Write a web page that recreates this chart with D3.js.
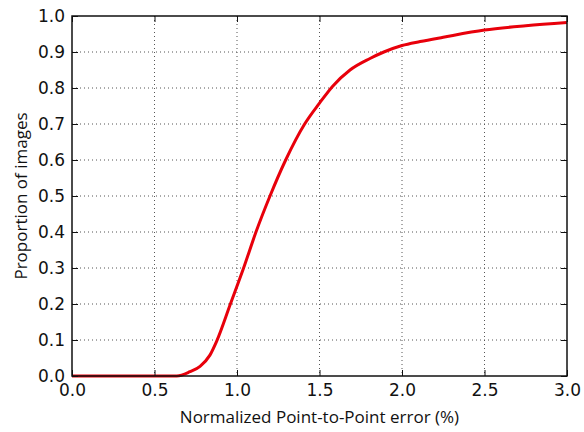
<!DOCTYPE html>
<html>
<head>
<meta charset="utf-8">
<script src="https://cdn.jsdelivr.net/npm/d3@7"></script>
<style>
  body { margin: 0; background: #fff; }
  svg text { fill: #111; }
</style>
</head>
<body>
<div id="plot"></div>
<script>
// curve
const errorPct = [0, 0.5, 0.635, 0.715, 0.776, 0.836, 0.877, 0.96, 1.04, 1.115, 1.2, 1.295, 1.41, 1.5, 1.58, 1.685, 1.806, 1.89, 2.0, 2.11, 2.25, 2.5, 2.75, 3.0];
const proportion = [0, 0, 0, 0.012, 0.027, 0.058, 0.097, 0.2, 0.3, 0.4, 0.5, 0.6, 0.7, 0.758, 0.805, 0.85, 0.882, 0.9, 0.918, 0.929, 0.941, 0.961, 0.973, 0.982];
const xTicks = [0, 0.5, 1.0, 1.5, 2.0, 2.5, 3.0];
const yTicks = [0, 0.1, 0.2, 0.3, 0.4, 0.5, 0.6, 0.7, 0.8, 0.9, 1.0];

const width = 584, height = 432;
const margin = {top: 16, right: 17, bottom: 56, left: 72};
const w = width - margin.left - margin.right;
const h = height - margin.top - margin.bottom;

const svg = d3.select("#plot").append("svg")
    .attr("width", width)
    .attr("height", height);

const g = svg.append("g")
    .attr("transform", `translate(${margin.left},${margin.top})`);

const x = d3.scaleLinear().domain([0, 3]).range([0, w]);
const y = d3.scaleLinear().domain([0, 1]).range([h, 0]);

// dotted grid
g.selectAll(".vgrid").data(xTicks.slice(1, -1)).enter().append("line")
    .attr("x1", d => x(d)).attr("x2", d => x(d))
    .attr("y1", 0).attr("y2", h)
    .attr("stroke", "#555").attr("stroke-width", 1)
    .attr("stroke-dasharray", "1,3");

g.selectAll(".hgrid").data(yTicks.slice(1, -1)).enter().append("line")
    .attr("x1", 0).attr("x2", w)
    .attr("y1", d => y(d)).attr("y2", d => y(d))
    .attr("stroke", "#555").attr("stroke-width", 1)
    .attr("stroke-dasharray", "1,3");

// the curve
const line = d3.line()
    .x((d, i) => x(errorPct[i]))
    .y(d => y(d))
    .curve(d3.curveMonotoneX);

g.append("path")
    .datum(proportion)
    .attr("d", line)
    .attr("fill", "none")
    .attr("stroke", "#e8000b")
    .attr("stroke-width", 3);

// axes, ticks pointing inward
const xAxis = g.append("g")
    .attr("transform", `translate(0,${h})`)
    .call(d3.axisBottom(x).tickValues(xTicks).tickFormat(d3.format(".1f")).tickSizeInner(-6).tickSizeOuter(0).tickPadding(8));
const xTop = g.append("g")
    .call(d3.axisTop(x).tickValues(xTicks).tickFormat("").tickSizeInner(-6).tickSizeOuter(0));
const yAxis = g.append("g")
    .call(d3.axisLeft(y).tickValues(yTicks).tickFormat(d3.format(".1f")).tickSizeInner(-6).tickSizeOuter(0).tickPadding(7));
const yRight = g.append("g")
    .attr("transform", `translate(${w},0)`)
    .call(d3.axisRight(y).tickValues(yTicks).tickFormat("").tickSizeInner(-6).tickSizeOuter(0));

[xAxis, xTop, yAxis, yRight].forEach(a => {
    a.select(".domain").remove();
    a.selectAll(".tick line").attr("stroke", "#111").attr("stroke-width", 1);
    a.selectAll("text")
        .style("font-family", "DejaVu Sans")
        .style("font-size", "17px")
        .attr("fill", "#111");
});

// frame
g.append("rect")
    .attr("width", w).attr("height", h)
    .attr("fill", "none")
    .attr("stroke", "#111")
    .attr("stroke-width", 1.5);

// axis titles
svg.append("text")
    .attr("x", margin.left + w / 2)
    .attr("y", 423)
    .attr("text-anchor", "middle")
    .style("font-family", "Open Sans")
    .style("font-size", "17px")
    .text("Normalized Point-to-Point error (%)");

svg.append("text")
    .attr("transform", `translate(27,${margin.top + h / 2}) rotate(-90)`)
    .attr("text-anchor", "middle")
    .style("font-family", "Open Sans")
    .style("font-size", "17px")
    .text("Proportion of images");
</script>
</body>
</html>
